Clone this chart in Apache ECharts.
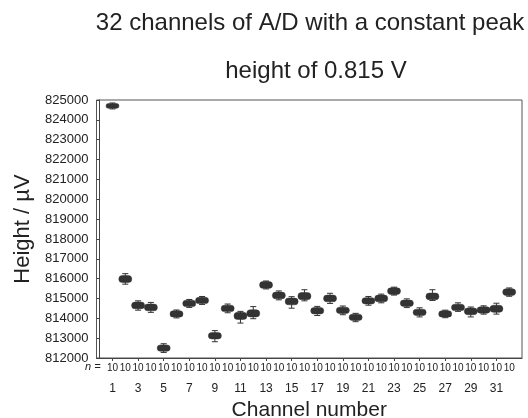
<!DOCTYPE html>
<html><head><meta charset="utf-8">
<script src="https://cdn.jsdelivr.net/npm/echarts@6/dist/echarts.min.js"></script>
<style>html,body{margin:0;padding:0;background:#fff}#c{width:528px;height:418px}</style>
</head><body><div id="c"></div>
<script>
var channels = [1,2,3,4,5,6,7,8,9,10,11,12,13,14,15,16,17,18,19,20,21,22,23,24,25,26,27,28,29,30,31,32];
var medians = [824700,815980,814650,814550,812500,814220,814750,814900,813120,814500,814120,814250,815680,815150,814850,815120,814380,815000,814400,814050,814880,815000,815370,814760,814300,815100,814220,814550,814350,814420,814480,815320];
var boxHalf = [120,180,170,170,160,160,160,160,160,160,180,180,170,170,170,180,160,170,160,160,160,170,170,160,160,170,160,160,170,160,180,170];
var whiskLow = [150,260,240,250,220,200,200,200,300,220,360,270,200,220,340,240,240,250,220,220,220,220,200,220,230,200,190,200,280,210,270,210];
var whiskHigh = [150,270,230,250,220,200,200,200,260,220,230,340,200,230,240,320,220,260,220,200,220,220,200,220,230,340,190,230,220,210,280,210];
var nLabels = ['10','10','10','10','10','10','10','10','10','10','10','10','10','10','10','10','10','10','10','10','10','10','10','10','10','10','10','10','10','10','10','10'];
var oddTicks = [1,3,5,7,9,11,13,15,17,19,21,23,25,27,29,31];
var titleLines = ['32 channels of A/D with a constant peak', 'height of 0.815 V'];

var data = channels.map(function(c,i){
  return [c, medians[i]-whiskLow[i], medians[i]-boxHalf[i], medians[i], medians[i]+boxHalf[i], medians[i]+whiskHigh[i]];
});

var chart = echarts.init(document.getElementById('c'));
var font = 'Liberation Sans, Arial, sans-serif';
chart.setOption({
  animation:false,
  textStyle:{fontFamily:font},
  title:[
    {text:titleLines[0], left:305, top:6, textAlign:'center', textStyle:{fontSize:24, fontWeight:'normal', color:'#222', fontFamily:font}},
    {text:titleLines[1], left:311, top:54, textAlign:'center', textStyle:{fontSize:24, fontWeight:'normal', color:'#222', fontFamily:font}}
  ],
  grid:{left:96.5, right:6, top:100, bottom:60, show:true, borderColor:'#555', borderWidth:1, backgroundColor:'transparent', outerBoundsMode:'none', containLabel:false},
  xAxis:[
    {type:'value', min:-0.25, max:33, name:'Channel number', nameLocation:'middle', nameGap:41,
     nameTextStyle:{fontSize:21, color:'#222'},
     axisLine:{lineStyle:{color:'#444'}},
     axisTick:{show:true, length:3, customValues:oddTicks, lineStyle:{color:'#444'}},
     axisLabel:{customValues:oddTicks, margin:25, fontSize:12, color:'#222'},
     splitLine:{show:false}},
    {type:'value', min:-0.25, max:33, position:'bottom', gridIndex:0,
     axisLine:{show:false}, axisTick:{show:false},
     axisLabel:{customValues:channels, margin:5, fontSize:10, color:'#222', formatter:function(v){return nLabels[v-1]||'';}},
     splitLine:{show:false}}
  ],
  yAxis:{type:'value', min:812000, max:825000, interval:1000, name:'Height / \u00b5V', nameLocation:'middle', nameGap:60,
     nameTextStyle:{fontSize:22, color:'#222'},
     axisLine:{show:true, lineStyle:{color:'#444'}},
     axisTick:{show:true, length:3, lineStyle:{color:'#444'}},
     axisLabel:{fontSize:13, color:'#222', margin:8, formatter:function(v){return String(v);}},
     splitLine:{show:false}},
  graphic:[{type:'text', left:85, top:361, style:{text:'n =', font:'italic 11px '+font, fill:'#222'}}],
  series:[{
    type:'custom', xAxisIndex:0,
    data:data,
    encode:{x:0, y:[1,2,3,4,5]},
    renderItem:function(params, api){
      var x = api.value(0);
      var pMin = api.coord([x, api.value(1)]);
      var pQ1 = api.coord([x, api.value(2)]);
      var pMed = api.coord([x, api.value(3)]);
      var pQ3 = api.coord([x, api.value(4)]);
      var pMax = api.coord([x, api.value(5)]);
      var w = 13, cap = 6;
      var cx = pMed[0];
      return {type:'group', children:[
        {type:'line', shape:{x1:cx, y1:pMin[1], x2:cx, y2:pMax[1]}, style:{stroke:'#333', lineWidth:1}},
        {type:'line', shape:{x1:cx-cap/2, y1:pMin[1], x2:cx+cap/2, y2:pMin[1]}, style:{stroke:'#333', lineWidth:1}},
        {type:'line', shape:{x1:cx-cap/2, y1:pMax[1], x2:cx+cap/2, y2:pMax[1]}, style:{stroke:'#333', lineWidth:1}},
        {type:'rect', shape:{x:cx-w/2, y:pQ3[1], width:w, height:Math.max(4, pQ1[1]-pQ3[1]), r:3.5}, style:{fill:'#333', stroke:'#333', lineWidth:0.5}}
      ]};
    }
  }]
});
</script></body></html>
